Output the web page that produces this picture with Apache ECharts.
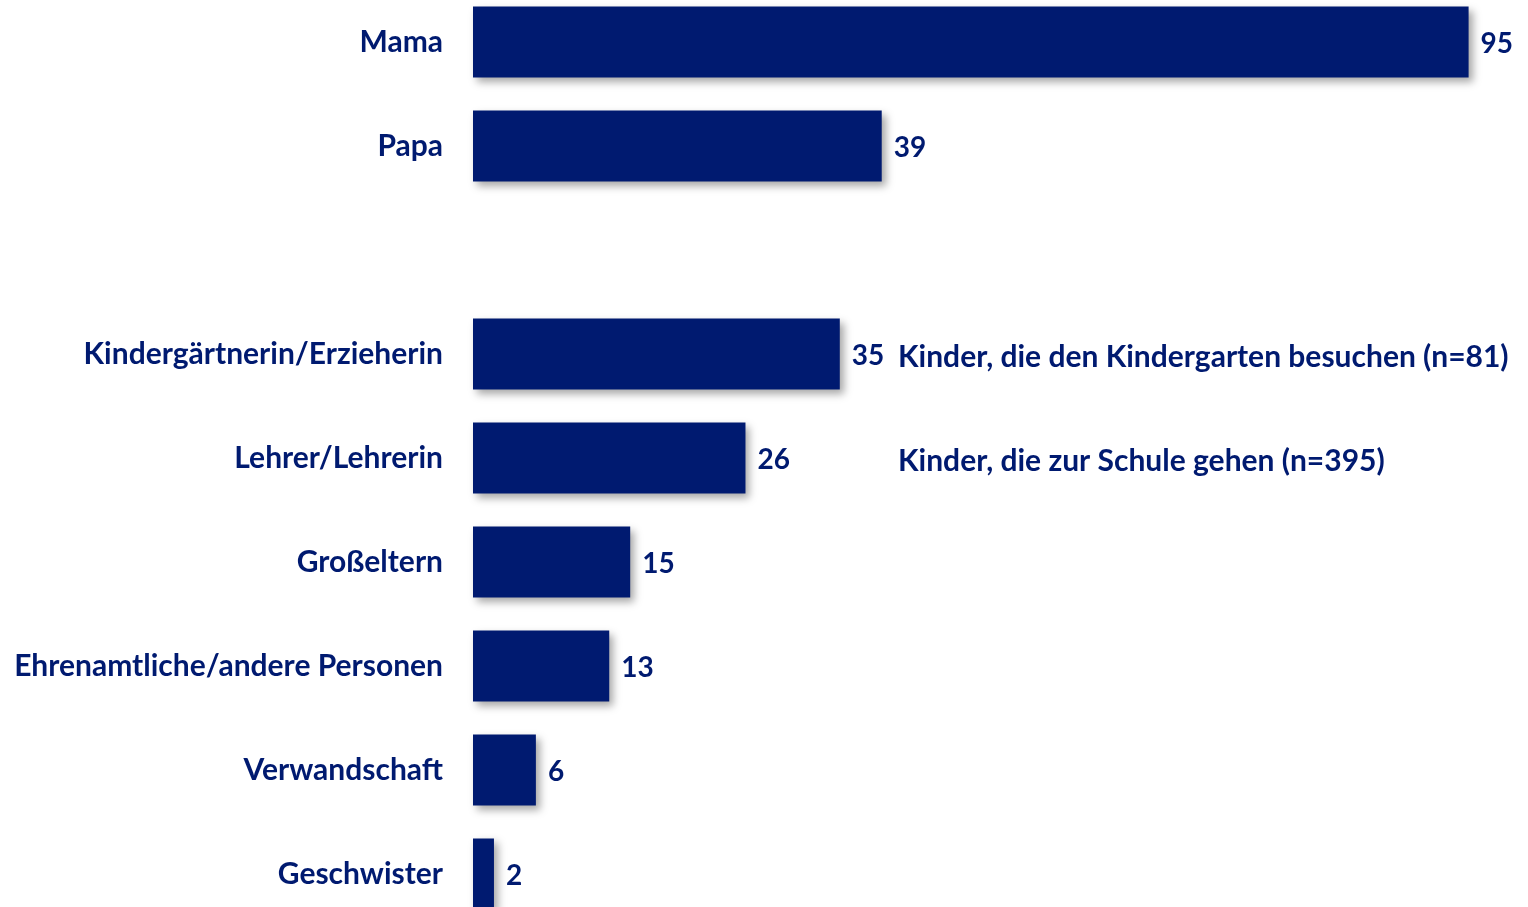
<!DOCTYPE html>
<html>
<head>
<meta charset="utf-8">
<script src="https://cdn.jsdelivr.net/npm/echarts@6/dist/echarts.min.js"></script>
<style>
  html, body { margin: 0; padding: 0; background: #fff; }
  #chart { width: 1528px; height: 907px; }
</style>
</head>
<body>
<div id="chart"></div>
<script>
// Kategorien (von oben nach unten), leere Zeile als Abstand
var categories = ['Mama', 'Papa', '', 'Kindergärtnerin/Erzieherin', 'Lehrer/Lehrerin',
    'Großeltern', 'Ehrenamtliche/andere Personen', 'Verwandschaft', 'Geschwister'];
var values = [95, 39, null, 35, 26, 15, 13, 6, 2];
// Hinweise rechts neben den Balken
var noteCategories = ['Kindergärtnerin/Erzieherin', 'Lehrer/Lehrerin'];
var noteTexts = ['Kinder, die den Kindergarten besuchen (n=81)', 'Kinder, die zur Schule gehen (n=395)'];

var navy = '#001a70';
var font = 'Lato';

var chart = echarts.init(document.getElementById('chart'));

var option = {
    animation: false,
    backgroundColor: '#fff',
    grid: {
        left: 473,
        right: 7,
        top: -10,
        bottom: -19,
        outerBoundsMode: 'none'
    },
    xAxis: {
        type: 'value',
        min: 0,
        max: 100,
        show: false
    },
    yAxis: {
        type: 'category',
        inverse: true,
        data: categories,
        axisLine: { show: false },
        axisTick: { show: false },
        splitLine: { show: false },
        axisLabel: {
            margin: 30,
            color: navy,
            fontFamily: font,
            fontWeight: 'bold',
            fontSize: 30
        }
    },
    series: [{
        type: 'bar',
        data: values,
        barWidth: 71,
        itemStyle: {
            color: navy,
            shadowColor: 'rgba(0,0,0,0.35)',
            shadowBlur: 8,
            shadowOffsetX: 4,
            shadowOffsetY: 4
        },
        label: {
            show: true,
            position: 'right',
            distance: 12,
            color: navy,
            fontFamily: font,
            fontWeight: 'bold',
            fontSize: 28,
            offset: [0, 2]
        }
    }],
    graphic: []
};

chart.setOption(option);

// Hinweistexte an den Kategorie-Positionen ausrichten
var notes = noteCategories.map(function (cat, i) {
    var y = chart.convertToPixel({ yAxisIndex: 0 }, cat);
    return {
        type: 'text',
        left: 898,
        top: y - 12,
        style: {
            text: noteTexts[i],
            fill: navy,
            font: 'bold 30px ' + font
        }
    };
});
chart.setOption({ graphic: notes });

window.addEventListener('resize', function () {
    chart.resize();
});
</script>
</body>
</html>
